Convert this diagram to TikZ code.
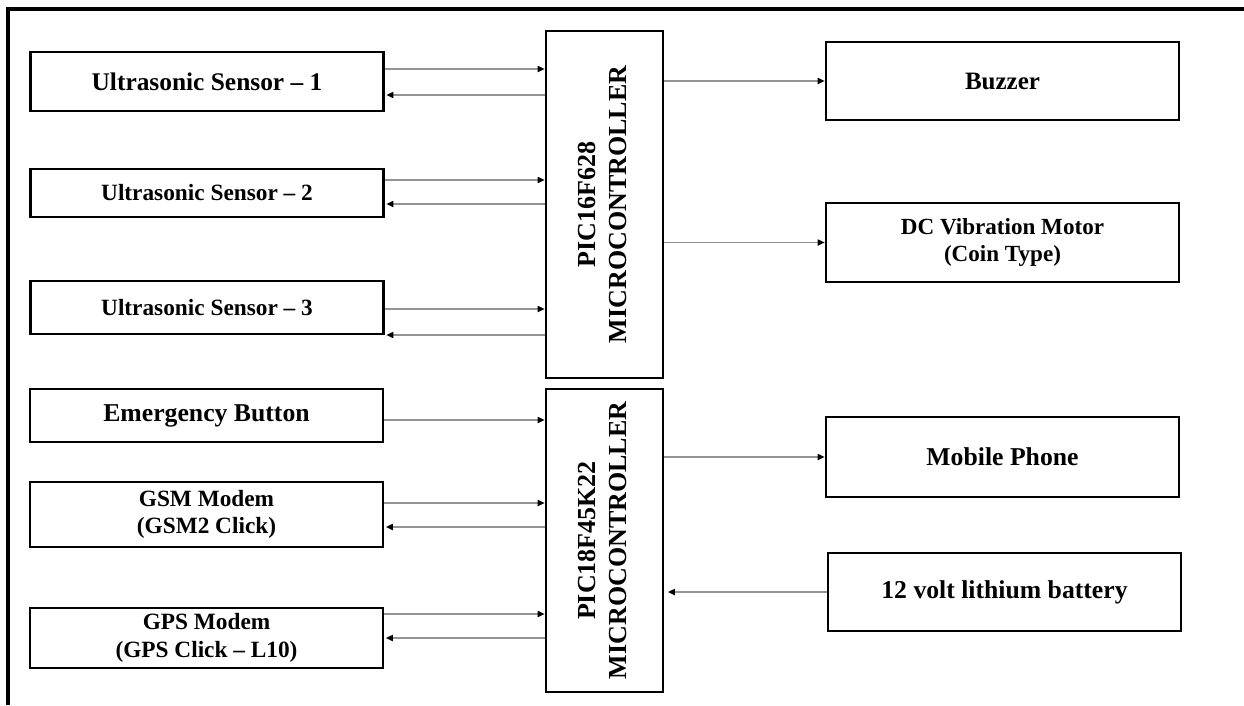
\documentclass[tikz,border=0pt]{standalone}
\usepackage{fontspec}
\setmainfont{Liberation Serif}
\usetikzlibrary{arrows.meta}
\begin{document}
\begin{tikzpicture}[x=1pt,y=-1pt,
  box/.style={draw=black, line width=2.6pt, minimum width=353pt, inner sep=0pt, align=center,
    font=\bfseries\fontsize{25.7}{30}\selectfont},
  small/.style={font=\bfseries\fontsize{23.3}{27.7}\selectfont},
  conn/.style={draw=black!42, line width=1.6pt, -{Triangle[length=7pt,width=6pt,color=black]}},
  frame/.style={draw=black, line width=4pt}
]
\useasboundingbox (0,0) rectangle (1244,705);
\draw[frame] (8,705) -- (8,9) -- (1244,9);

% left column
\node[box, minimum height=59pt, font=\bfseries\fontsize{25.4}{30}\selectfont] (s1) at (207,81.5) {Ultrasonic Sensor – 1};
\node[box, minimum height=48pt, small] (s2) at (207,193) {Ultrasonic Sensor – 2};
\node[box, minimum height=53pt, small] (s3) at (207,307.5) {Ultrasonic Sensor – 3};
\node[box, minimum height=53pt] (eb) at (206.5,415.5) {Emergency Button};
\node[box, minimum height=65pt, small] (gsm) at (206.5,514.5) {GSM Modem\\(GSM2 Click)};
\node[box, minimum height=60pt, small] (gps) at (206.5,638) {GPS Modem\\(GPS Click – L10)};

% microcontrollers
\node[box, minimum width=117pt, minimum height=347pt] (mcu1) at (604.5,204.5)
  {\rotatebox{90}{\fontsize{26}{31}\selectfont\begin{tabular}{@{}c@{}}PIC16F628\\MICROCONTROLLER\end{tabular}}};
\node[box, minimum width=117pt, minimum height=303pt] (mcu2) at (604.5,540.5)
  {\rotatebox{90}{\fontsize{26}{31}\selectfont\begin{tabular}{@{}c@{}}PIC18F45K22\\MICROCONTROLLER\end{tabular}}};

% right column
\node[box, minimum height=78pt, font=\bfseries\fontsize{25}{30}\selectfont] (buz) at (1002.5,81) {Buzzer};
\node[box, minimum height=79pt, font=\bfseries\fontsize{23.1}{27}\selectfont] (dc) at (1002.5,242.5) {DC Vibration Motor\\(Coin Type)};
\node[box, minimum height=80pt] (mob) at (1002.5,457) {Mobile Phone};
\node[box, minimum height=78pt] (bat) at (1004.5,592) {12 volt lithium battery};

% connection points
\coordinate (a1) at ([yshift=12.5pt]s1.east);
\coordinate (b1) at ([yshift=-13.5pt]s1.east);
\coordinate (a2) at ([yshift=13pt]s2.east);
\coordinate (b2) at ([yshift=-11pt]s2.east);
\coordinate (a3) at ([yshift=-1.5pt]s3.east);
\coordinate (b3) at ([yshift=-27.5pt]s3.east);
\coordinate (a4) at ([yshift=-4.5pt]eb.east);
\coordinate (a5) at ([yshift=11.5pt]gsm.east);
\coordinate (b5) at ([yshift=-12.5pt]gsm.east);
\coordinate (a6) at ([yshift=24pt]gps.east);
\coordinate (b6) at (gps.east);

\draw[conn] (a1) -- (a1 -| mcu1.west);
\draw[conn, shorten >=1.5pt] (b1 -| mcu1.west) -- (b1);
\draw[conn] (a2) -- (a2 -| mcu1.west);
\draw[conn, shorten >=1.5pt] (b2 -| mcu1.west) -- (b2);
\draw[conn] (a3) -- (a3 -| mcu1.west);
\draw[conn, shorten >=1.5pt] (b3 -| mcu1.west) -- (b3);
\draw[conn] (a4) -- (a4 -| mcu2.west);
\draw[conn] (a5) -- (a5 -| mcu2.west);
\draw[conn, shorten >=1.5pt] (b5 -| mcu2.west) -- (b5);
\draw[conn] (a6) -- (a6 -| mcu2.west);
\draw[conn, shorten >=1.5pt] (b6 -| mcu2.west) -- (b6);

\draw[conn] (buz.west -| mcu1.east) -- (buz.west);
\draw[conn] (dc.west -| mcu1.east) -- (dc.west);
\draw[conn] (mob.west -| mcu2.east) -- (mob.west);
\draw[conn, shorten >=3.5pt] (bat.west) -- (bat.west -| mcu2.east);
\end{tikzpicture}
\end{document}
